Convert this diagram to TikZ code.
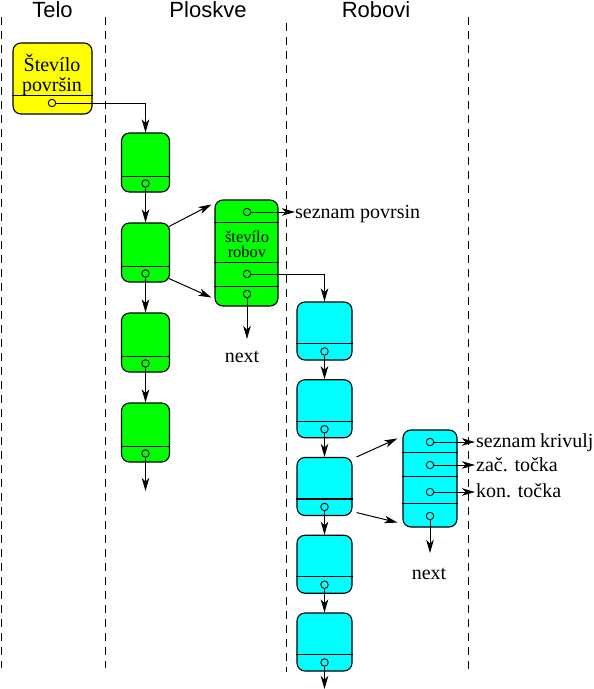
\documentclass[tikz,border=0pt]{standalone}
\usepackage{fontspec}
\setmainfont{Liberation Serif}
\newfontfamily\titlefont{Liberation Sans}
\usetikzlibrary{arrows.meta,calc}
\definecolor{yel}{RGB}{255,255,0}
\definecolor{grn}{RGB}{0,255,0}
\definecolor{cyn}{RGB}{0,255,255}
\begin{document}
\begin{tikzpicture}[x=1pt,y=-1pt,
  lane/.style={line width=0.9pt, dash pattern=on 8pt off 6pt},
  rec/.style={draw, line width=1.1pt, rounded corners=8pt, inner sep=0pt},
  hole/.style={circle, draw, line width=0.9pt, inner sep=0pt, minimum size=7.5pt},
  arr/.style={-{Stealth[length=13pt,width=7.5pt,inset=3.5pt]}, line width=1pt},
  lab/.style={inner sep=0pt, font=\fontsize{20}{20}\selectfont},
  small/.style={inner sep=0pt, font=\fontsize{16.5}{16}\selectfont},
  ttl/.style={inner sep=0pt, anchor=base, font=\titlefont\fontsize{22}{22}\selectfont}
]
\useasboundingbox (0,0) rectangle (594,689);

% titles
\node[ttl] (t1) at (52.5,17) {Telo};
\node[ttl] (t2) at (208,17) {Ploskve};
\node[ttl] (t3) at (376,17) {Robovi};

% lanes
\draw[lane] (1,17) -- (1,668);
\draw[lane] (105,17) -- (105,668);
\draw[lane] (286,23) -- (286,672);
\draw[lane] (468,17) -- (468,672);

% yellow box
\node[rec, fill=yel, minimum width=79pt, minimum height=71pt] (Y) at (52.5,78.5) {};
\draw[line width=1.1pt] ($(Y.north west)+(0,53)$) -- ($(Y.north east)+(0,53)$);
\node[lab, anchor=base] (Yt1) at (52,71) {Števílo};
\node[lab, anchor=base] (Yt2) at (52,91) {površin};
\node[hole] (Y-h) at (52,103) {};

% green column
\foreach \n/\cy in {g1/162.5, g2/252.5, g3/342.5, g4/432.5}{
  \node[rec, fill=grn, minimum width=48pt, minimum height=59pt] (\n) at (145.5,\cy) {};
  \draw[line width=1.1pt] ($(\n.north west)+(0,44)$) -- ($(\n.north east)+(0,44)$);
  \node[hole] (\n-h) at ($(\n.north)+(0,51)$) {};
}

% big green box
\node[rec, fill=grn, minimum width=63pt, minimum height=106pt] (G) at (246.5,253) {};
\foreach \d in {23,63,87}
  \draw[line width=1.1pt] ($(G.north west)+(0,\d)$) -- ($(G.north east)+(0,\d)$);
\node[hole] (G-h1) at (247,212) {};
\node[hole] (G-h2) at (247,274) {};
\node[hole] (G-h3) at (247,294) {};
\node[small, anchor=base] (Gt1) at (247,242) {števílo};
\node[small, anchor=base] (Gt2) at (247,257) {robov};
\node[lab, anchor=base west] (sp) at (295,218) {seznam povrsin};
\node[lab, anchor=base] (nx1) at (242,362) {next};
\coordinate (Gend) at (247,339);

% cyan column
\foreach \n/\cy in {c1/331, c2/408.75, c3/486.5, c4/564.25, c5/642}{
  \node[rec, fill=cyn, minimum width=55pt, minimum height=58pt] (\n) at (324.5,\cy) {};
  \draw[line width=1.1pt] ($(\n.north west)+(0,42)$) -- ($(\n.north east)+(0,42)$);
  \node[hole] (\n-h) at ($(\n.north)+(0,50)$) {};
}
\coordinate (cend) at (324.5,689);
\coordinate (gend) at (145.5,491);

% curve box
\node[rec, fill=cyn, minimum width=54pt, minimum height=97pt] (K) at (430,478.5) {};
\foreach \d in {23,47,74}
  \draw[line width=1.1pt] ($(K.north west)+(0,\d)$) -- ($(K.north east)+(0,\d)$);
\node[hole] (K-h1) at (430,442) {};
\node[hole] (K-h2) at (430,465) {};
\node[hole] (K-h3) at (430,492) {};
\node[hole] (K-h4) at (430,516) {};
\node[lab, anchor=base west] (k1) at (476,447) {seznam\hspace{-1pt} krivulj};
\node[lab, anchor=base west] (k2) at (476,471) {zač. točka};
\node[lab, anchor=base west] (k3) at (476,497) {kon. točka};
\node[lab, anchor=base] (nx2) at (429,579) {next};
\coordinate (Kend) at (430,553);

% connectors
\draw[arr] (Y-h) -| (g1.north);
\draw[arr] (g1-h) -- (g2.north);
\draw[arr] (g2-h) -- (g3.north);
\draw[arr] (g3-h) -- (g4.north);
\draw[arr] (g4-h) -- (gend);
\draw[arr] ($(g2.north east)+(-1,4)$) -- ($(G.north west)+(-3,5)$);
\draw[arr] ($(g2.south east)+(-1,-4)$) -- ($(G.south west)+(-3,-9)$);
\draw[arr] (G-h1) -- (G-h1 -| sp.west);
\draw[arr] (G-h2) -| (c1.north);
\draw[arr] (G-h3) -- (Gend);
\draw[arr] (c1-h) -- (c2.north);
\draw[arr] (c2-h) -- (c3.north);
\draw[arr] (c3-h) -- (c4.north);
\draw[arr] (c4-h) -- (c5.north);
\draw[arr] (c5-h) -- (cend);
\draw[arr] ($(c3.north east)+(4,0)$) -- ($(K.north west)+(-5,9)$);
\draw[arr] ($(c3.south east)+(4,-3.5)$) -- ($(K.south west)+(-5,-5)$);
\draw[arr] (K-h1) -- ($(K-h1 -| k1.west)+(-1,0)$);
\draw[arr] (K-h2) -- ($(K-h2 -| k2.west)+(-1,0)$);
\draw[arr] (K-h3) -- ($(K-h3 -| k3.west)+(-1,0)$);
\draw[arr] (K-h4) -- (Kend);
\end{tikzpicture}
\end{document}
